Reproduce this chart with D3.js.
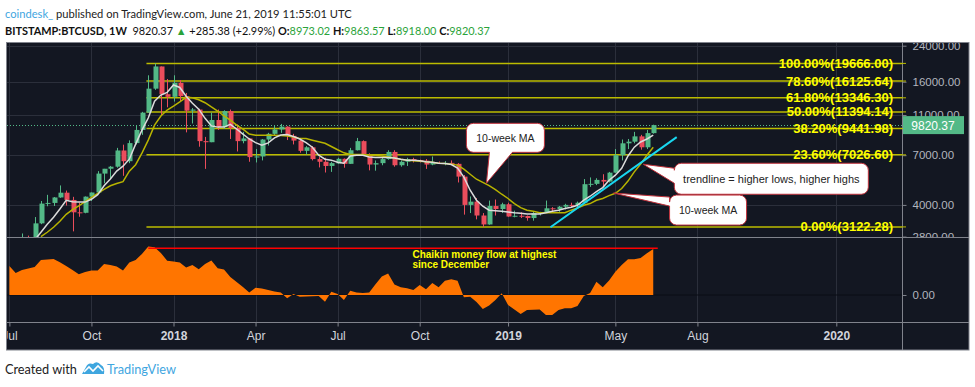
<!DOCTYPE html>
<html>
<head>
<meta charset="utf-8">
<script src="https://cdn.jsdelivr.net/npm/d3@7"></script>
<style>
  body { margin: 0; background: #fff; }
  svg { display: block; }
  .axis text { font-family: "Liberation Sans", Arial, sans-serif; }
</style>
</head>
<body>
<svg id="chart" width="975" height="387"></svg>
<script>
// BITSTAMP:BTCUSD weekly candles, first bar = week of 3 Jul 2017
const firstWeek = '2017-07-03';
const ohlc = [
  // Jul - Sep 2017
  [2495, 2665, 2470, 2505], [2505, 2540, 1830, 1915], [1915, 2900, 1900, 2740], [2740, 2830, 2620, 2720],
  [2720, 3490, 2620, 3250], [3250, 4180, 3220, 4060], [4060, 4480, 3940, 4090], [4090, 4370, 3950, 4350],
  [4350, 4980, 4330, 4590], [4590, 4700, 3970, 4230], [4230, 4380, 2970, 3680], [3680, 4100, 3500, 3660],
  [3660, 4400, 3640, 4390],
  // Oct - Dec 2017
  [4390, 4600, 4180, 4600], [4600, 5850, 4550, 5690], [5690, 6000, 5100, 6010], [6010, 6200, 5370, 6150],
  [6150, 7600, 6080, 7380], [7380, 7880, 5550, 6540], [6540, 8270, 6400, 8020], [8020, 9750, 7900, 9300],
  [9300, 11400, 8800, 11300], [11300, 17200, 11300, 14800], [14800, 19666, 14600, 19000], [19000, 19000, 11000, 13900],
  [13900, 16500, 12000, 13500],
  // Jan - Mar 2018
  [13500, 17200, 12800, 15800], [15800, 16300, 12800, 13600], [13600, 14100, 9050, 11550], [11550, 11900, 10000, 11700],
  [11700, 11800, 7700, 8200], [8200, 8600, 6000, 8100], [8100, 11300, 8100, 10400], [10400, 11700, 9300, 9600],
  [9600, 11600, 9400, 11500], [11500, 11700, 8400, 9500], [9500, 9900, 7300, 8200], [8200, 9100, 8000, 8450],
  [8450, 8500, 6500, 6850],
  // Apr - Jun 2018
  [6850, 7500, 6450, 6900], [6900, 8400, 6600, 8350], [8350, 9000, 7800, 8900], [8900, 9750, 8700, 9350],
  [9350, 9950, 9000, 9650], [9650, 9700, 8300, 8700], [8700, 8900, 7900, 8250], [8250, 8500, 7200, 7350],
  [7350, 7750, 7050, 7650], [7650, 7750, 6600, 6700], [6700, 6850, 6100, 6500], [6500, 6800, 5760, 6200],
  [6200, 6500, 5800, 6400],
  // Jul - Sep 2018
  [6380, 6800, 6350, 6720], [6720, 6750, 6080, 6350], [6350, 7600, 6350, 7400], [7400, 8500, 7380, 8200],
  [8200, 8270, 6950, 7020], [7020, 7150, 5900, 6300], [6300, 6600, 5880, 6400], [6400, 6800, 6250, 6700],
  [6700, 7400, 6650, 7260], [7260, 7400, 6150, 6250], [6250, 6600, 6150, 6500], [6500, 6800, 6200, 6700],
  [6700, 6800, 6450, 6620],
  // Oct - Dec 2018
  [6620, 6660, 6450, 6580], [6580, 6700, 6000, 6300], [6300, 6900, 6250, 6410], [6410, 6520, 6350, 6400],
  [6400, 6550, 6250, 6420], [6420, 6600, 6300, 6350], [6350, 6400, 5150, 5500], [5500, 5600, 3585, 4000],
  [4000, 4400, 3650, 4150], [4150, 4320, 3400, 3550], [3550, 3650, 3122, 3210], [3210, 4200, 3200, 3950],
  [3950, 4250, 3550, 3820], [3820, 4100, 3650, 4030],
  // Jan - Mar 2019
  [4030, 4100, 3500, 3510], [3510, 3750, 3480, 3540], [3540, 3680, 3450, 3530], [3530, 3550, 3350, 3450],
  [3450, 3700, 3350, 3650], [3650, 3700, 3550, 3660], [3660, 4200, 3660, 3850], [3850, 3900, 3660, 3810],
  [3810, 3950, 3700, 3920], [3920, 4050, 3800, 4000], [4000, 4100, 3900, 3990], [3990, 4150, 3900, 4100],
  // Apr - Jun 2019
  [4100, 5350, 4100, 5050], [5050, 5450, 4900, 5070], [5070, 5400, 5000, 5300], [5300, 5650, 4950, 5200],
  [5200, 5800, 5150, 5750], [5750, 7500, 5750, 7000], [7000, 8350, 6600, 8000], [8000, 8400, 7500, 8150],
  [8150, 9100, 8000, 8650], [8650, 8800, 7450, 7650], [7650, 9300, 7500, 8973.02], [8973.02, 9863.57, 8918.00, 9820.37]
];

// short moving average (white) and 10-week MA (yellow), one value per bar
const maFast = [
  null, null, null, null, 2690, 2940, 3215, 3480, 3820, 4216, 4150, 4130, 4130,
  4260, 4490, 4965, 5350, 5850, 6185, 6690, 7930, 9280, 10630, 12860, 13770, 14200,
  15420, 15000, 13600, 12550, 11750, 10600, 9730, 9600, 9600, 9900, 9400, 8880, 8400,
  8060, 7840, 8040, 8500, 8780, 8830, 8640, 8400, 8060, 7660, 7000, 6690, 6620,
  6470, 6400, 6930, 7000, 7000, 6860, 6820, 6820, 6820, 6780, 6690, 6620, 6620,
  6570, 6500, 6470, 6400, 6370, 6300, 6060, 5470, 4720, 4216, 3940, 3770, 3750, 3720,
  3690, 3660, 3640, 3610, 3610, 3610, 3660, 3720, 3770, 3840, 3900, 3985,
  4216, 4410, 4640, 4860, 5283, 5590, 6040, 6940, 7660, 8120, 8400, 8770
];
const ma10 = [
  null, null, null, null, null, 2800, 2940, 3110, 3330, 3600, 3790, 3960, 4150,
  4350, 4560, 4760, 4960, 5090, 5200, 5850, 6290, 7160, 8290, 9820, 10880, 11630,
  12170, 12770, 13420, 13360, 13060, 12630, 12040, 11510, 10880, 10390, 9820, 9390, 8880,
  8770, 8770, 8770, 8770, 8730, 8680, 8580, 8440, 8440, 8290, 8150, 8000, 7720,
  7440, 7190, 7050, 7050, 7050, 7000, 6970, 6930, 6860, 6780, 6690, 6620, 6580,
  6540, 6500, 6470, 6400, 6370, 6330, 6260, 5980, 5650, 5340, 5150, 4970, 4750, 4510,
  4300, 4060, 3880, 3770, 3720, 3660, 3660, 3660, 3660, 3660, 3770, 3860,
  3985, 4060, 4216, 4300, 4440, 4560, 4810, 5230, 5800, 6330, 7000, 7660
];

// Chaikin money flow, one value per bar
const cmf = [
  0.242, 0.183, 0.208, 0.221, 0.233, 0.292, 0.296, 0.300, 0.272, 0.242, 0.208, 0.172, 0.192,
  0.203, 0.203, 0.258, 0.250, 0.238, 0.204, 0.271, 0.292, 0.342, 0.403, 0.397, 0.350, 0.286,
  0.279, 0.271, 0.228, 0.250, 0.214, 0.258, 0.288, 0.222, 0.213, 0.150, 0.108, 0.067, 0.021,
  0.061, 0.054, 0.042, 0.030, 0.021, -0.028, 0.008, -0.014, -0.013, -0.010, -0.008, -0.056, 0.028,
  0.008, -0.042, 0.036, 0.021, 0.017, 0.021, 0.089, 0.153, 0.179, 0.088, 0.064, 0.056, 0.042,
  0.083, 0.048, 0.100, 0.064, 0.119, 0.131, 0.119, -0.019, -0.014, -0.058, -0.117, -0.088, -0.042, 0.014,
  -0.083, -0.121, -0.158, -0.125, -0.122, -0.121, -0.167, -0.167, -0.125, -0.111, -0.111, -0.092,
  -0.008, 0.017, 0.111, 0.064, 0.121, 0.194, 0.250, 0.298, 0.298, 0.308, 0.348, 0.383
];
const cmfHighDates = ['2017-12-04', '2019-06-22'];
const cmfHighValue = 0.39;

// Fibonacci retracement
const fibLevels = [1, 0.786, 0.618, 0.5, 0.382, 0.236, 0];
const fibPrices = [19666.00, 16125.64, 13346.30, 11394.14, 9441.98, 7026.60, 3122.28];
const fibStart = '2017-12-02';

const lastPrice = 9820.37;
const trendline = [['2019-02-23', 3111], ['2019-07-13', 8580]];

const priceTicks = [24000, 16000, 11000, 7000, 4000, 2800];
const cmfTicks = [0];
const timeTicks = ['2017-07-03', '2017-10-02', '2018-01-01', '2018-04-02', '2018-07-02', '2018-10-01',
  '2019-01-07', '2019-05-06', '2019-08-05', '2020-01-06'];
const timeTickLabels = ['Jul', 'Oct', '2018', 'Apr', 'Jul', 'Oct', '2019', 'May', 'Aug', '2020'];

// callouts: target in data space, box offset/size in px
const callouts = [
  { text: '10-week MA', date: '2018-12-14', price: 5100, dx: -20, dy: -60, w: 78, h: 29, tail: 'bottom', t0: 23, t1: 46, size: 10.5 },
  { text: 'trendline = higher lows, higher highs', date: '2019-06-06', price: 6320, dx: 31, dy: -1, w: 194, h: 31, tail: 'left', t0: 5, t1: 20, size: 11 },
  { text: '10-week MA', date: '2019-05-04', price: 4570, dx: 56, dy: 2, w: 77, h: 30, tail: 'left', t0: 2, t1: 11, size: 10.5 }
];

const parse = d3.utcParse('%Y-%m-%d');
const dates = ohlc.map((d, i) => d3.utcMonday.offset(parse(firstWeek), i));

const box = { left: 7, right: 902, top: 43, mid: 237, bottom: 322, axis: 350, outerRight: 969 };
const colors = {
  bg: '#131722', grid: '#2b2f3b', border: '#80838c', text: '#b2b5be',
  up: '#53b987', down: '#eb4d5c', fib: '#bcbc00', fibText: '#ffff00',
  maFast: '#dcdcdc', ma10: '#b8b400', cmf: '#ff7500'
};

const svg = d3.select('#chart');

const x = d3.scaleUtc()
  .domain([parse('2018-01-01'), parse('2020-01-06')])
  .range([173.5, 836.3]);
const y = d3.scaleLog()
  .domain([2800, 24000])
  .range([236.6, 45.7]);
const yc = d3.scaleLinear()
  .domain([-0.225, 0.483])
  .range([box.bottom, box.mid]);

// shrink a text's font until it takes the given width
function fitWidth(sel, width, maxSize) {
  const len = sel.node().getComputedTextLength();
  const size = parseFloat(sel.style('font-size'));
  sel.style('font-size', Math.min(maxSize, size * width / len).toFixed(2) + 'px');
}

// frame
svg.append('rect')
  .attr('x', 6.5).attr('y', 42.5)
  .attr('width', box.outerRight - 6.5).attr('height', box.axis - 42.5)
  .attr('fill', colors.bg)
  .attr('stroke', colors.border);

const defs = svg.append('defs');
const clip = (id, cx, cy, w, h) => defs.append('clipPath').attr('id', id).append('rect')
  .attr('x', cx).attr('y', cy).attr('width', w).attr('height', h);
clip('clip-main', box.left, box.top, box.right - box.left, box.mid - box.top);
clip('clip-cmf', box.left, box.mid, box.right - box.left, box.bottom - box.mid);
clip('clip-paxis', box.right, box.top, box.outerRight - box.right, box.mid - box.top);
clip('clip-taxis', box.left, box.bottom, box.right - box.left, box.axis - box.bottom);

// grid
const grid = svg.append('g').attr('class', 'grid');
grid.selectAll('.vgrid')
  .data(timeTicks)
  .join('line')
  .attr('x1', d => Math.round(x(parse(d))) + 0.5)
  .attr('x2', d => Math.round(x(parse(d))) + 0.5)
  .attr('y1', box.top).attr('y2', box.bottom)
  .attr('stroke', colors.grid);
grid.selectAll('.hgrid')
  .data(priceTicks)
  .join('line')
  .attr('x1', box.left).attr('x2', box.right)
  .attr('y1', d => Math.round(y(d)) + 0.5)
  .attr('y2', d => Math.round(y(d)) + 0.5)
  .attr('stroke', colors.grid);

// ---- main pane ----
const main = svg.append('g').attr('clip-path', 'url(#clip-main)');

// fib lines
main.selectAll('.fib')
  .data(fibPrices)
  .join('line')
  .attr('x1', x(parse(fibStart))).attr('x2', box.right)
  .attr('y1', d => y(d)).attr('y2', d => y(d))
  .attr('stroke', colors.fib)
  .attr('stroke-width', 1.5);

// last price dotted line
main.append('line')
  .attr('x1', box.left).attr('x2', box.right)
  .attr('y1', Math.round(y(lastPrice)) + 0.5).attr('y2', Math.round(y(lastPrice)) + 0.5)
  .attr('stroke', colors.up)
  .attr('stroke-dasharray', '1,2');

// candles
const candles = main.selectAll('.candle')
  .data(ohlc)
  .join('g')
  .attr('class', 'candle');
candles.append('line')
  .attr('x1', (d, i) => Math.round(x(dates[i])) + 0.5)
  .attr('x2', (d, i) => Math.round(x(dates[i])) + 0.5)
  .attr('y1', d => y(d[1]))
  .attr('y2', d => y(d[2]))
  .attr('stroke', d => d[3] >= d[0] ? colors.up : colors.down);
candles.append('rect')
  .attr('x', (d, i) => Math.round(x(dates[i])) - 1.5)
  .attr('width', 5)
  .attr('y', d => y(Math.max(d[0], d[3])))
  .attr('height', d => Math.max(1, Math.abs(y(d[0]) - y(d[3]))))
  .attr('fill', d => d[3] >= d[0] ? colors.up : colors.down);

// moving averages
const maLine = d3.line()
  .defined(d => d != null)
  .x((d, i) => x(dates[i]))
  .y(d => y(d));
main.append('path')
  .attr('d', maLine(ma10))
  .attr('fill', 'none')
  .attr('stroke', colors.ma10)
  .attr('stroke-width', 1.5);
main.append('path')
  .attr('d', maLine(maFast))
  .attr('fill', 'none')
  .attr('stroke', colors.maFast)
  .attr('stroke-width', 1.5);

// trendline
main.append('line')
  .attr('x1', x(parse(trendline[0][0]))).attr('y1', y(trendline[0][1]))
  .attr('x2', x(parse(trendline[1][0]))).attr('y2', y(trendline[1][1]))
  .attr('stroke', '#19d7f0')
  .attr('stroke-width', 2);

// fib labels
main.selectAll('.fib-label')
  .data(fibPrices)
  .join('text')
  .attr('x', 893)
  .attr('y', d => y(d) + 4.5)
  .attr('text-anchor', 'end')
  .attr('fill', colors.fibText)
  .style('font', 'bold 13px "Liberation Sans", Arial, sans-serif')
  .text((d, i) => `${(fibLevels[i] * 100).toFixed(2)}%(${d.toFixed(2)})`);

// callouts
callouts.forEach(c => {
  const tx = x(parse(c.date)), ty = y(c.price);
  const bx = tx + c.dx, by = ty + c.dy, r = 7;
  const p = d3.path();
  p.moveTo(bx + r, by);
  p.lineTo(bx + c.w - r, by);
  p.arcTo(bx + c.w, by, bx + c.w, by + r, r);
  p.lineTo(bx + c.w, by + c.h - r);
  p.arcTo(bx + c.w, by + c.h, bx + c.w - r, by + c.h, r);
  if (c.tail === 'bottom') {
    p.lineTo(bx + c.t1, by + c.h);
    p.lineTo(tx, ty);
    p.lineTo(bx + c.t0, by + c.h);
  }
  p.lineTo(bx + r, by + c.h);
  p.arcTo(bx, by + c.h, bx, by + c.h - r, r);
  if (c.tail === 'left') {
    p.lineTo(bx, by + c.t1);
    p.lineTo(tx, ty);
    p.lineTo(bx, by + c.t0);
  }
  p.lineTo(bx, by + r);
  p.arcTo(bx, by, bx + r, by, r);
  p.closePath();
  svg.append('path')
    .attr('d', p.toString())
    .attr('fill', '#fff')
    .attr('stroke', '#c0323c')
    .attr('stroke-width', 1);
  svg.append('text')
    .attr('x', bx + c.w / 2)
    .attr('y', by + c.h / 2 + 4)
    .attr('text-anchor', 'middle')
    .attr('fill', '#222')
    .style('font', `${c.size}px "Liberation Sans", Arial, sans-serif`)
    .text(c.text);
});

// ---- CMF pane ----
const cmfG = svg.append('g').attr('clip-path', 'url(#clip-cmf)');
cmfG.append('line')
  .attr('x1', box.left).attr('x2', box.right)
  .attr('y1', yc(0)).attr('y2', yc(0))
  .attr('stroke', '#0b0e16');
cmfG.append('path')
  .attr('d', d3.area()
    .x((d, i) => x(dates[i]))
    .y0(yc(0))
    .y1(d => yc(d))(cmf))
  .attr('fill', colors.cmf);
cmfG.append('line')
  .attr('x1', x(parse(cmfHighDates[0]))).attr('x2', x(parse(cmfHighDates[1])))
  .attr('y1', yc(cmfHighValue)).attr('y2', yc(cmfHighValue))
  .attr('stroke', '#ff0000')
  .attr('stroke-width', 1.5);
const noteX = x(parse('2018-09-23'));
const note = cmfG.append('text')
  .attr('fill', '#ffff00')
  .style('font', 'bold 10px "Liberation Sans", Arial, sans-serif');
note.append('tspan').attr('x', noteX).attr('y', yc(0.31)).text('Chaikin money flow at highest');
note.append('tspan').attr('x', noteX).attr('y', yc(0.225)).text('since December');

// separators
svg.append('line').attr('x1', box.left).attr('x2', box.outerRight)
  .attr('y1', box.mid + 0.5).attr('y2', box.mid + 0.5).attr('stroke', colors.border);
svg.append('line').attr('x1', box.left).attr('x2', box.outerRight)
  .attr('y1', box.bottom + 0.5).attr('y2', box.bottom + 0.5).attr('stroke', colors.border);
svg.append('line').attr('x1', box.right + 0.5).attr('x2', box.right + 0.5)
  .attr('y1', box.top).attr('y2', box.axis).attr('stroke', colors.border);

// price axis (clip on an outer group so the clip box is in page coordinates)
const pAxis = svg.append('g')
  .attr('clip-path', 'url(#clip-paxis)')
  .append('g')
  .attr('class', 'axis')
  .attr('transform', `translate(${box.right + 0.5},0)`)
  .call(d3.axisRight(y).tickValues(priceTicks).tickFormat(d3.format('.2f')).tickSize(4).tickPadding(6));
pAxis.select('.domain').remove();
pAxis.selectAll('line').attr('stroke', colors.border);
pAxis.selectAll('text').attr('fill', colors.text).style('font-size', '11.5px');
// fib marks on the price scale
svg.selectAll('.fib-mark')
  .data(fibPrices)
  .join('line')
  .attr('x1', box.right).attr('x2', box.right + 4)
  .attr('y1', d => y(d)).attr('y2', d => y(d))
  .attr('stroke', colors.fib);

// last price tag
svg.append('rect')
  .attr('x', box.right + 1).attr('y', y(lastPrice) - 9)
  .attr('width', 61).attr('height', 18)
  .attr('fill', colors.up);
svg.append('text')
  .attr('x', box.right + 31).attr('y', y(lastPrice) + 4.5)
  .attr('text-anchor', 'middle')
  .attr('fill', '#fff')
  .style('font', '12px "Liberation Sans", Arial, sans-serif')
  .text(lastPrice.toFixed(2));

// CMF axis
const cAxis = svg.append('g')
  .attr('class', 'axis')
  .attr('transform', `translate(${box.right + 0.5},0)`)
  .call(d3.axisRight(yc).tickValues(cmfTicks).tickFormat(d3.format('.2f')).tickSize(4).tickPadding(6));
cAxis.select('.domain').remove();
cAxis.selectAll('line').attr('stroke', colors.border);
cAxis.selectAll('text').attr('fill', colors.text).style('font-size', '11.5px');

// time axis
const tAxis = svg.append('g')
  .attr('clip-path', 'url(#clip-taxis)')
  .append('g')
  .attr('class', 'axis')
  .attr('transform', `translate(0,${box.bottom + 0.5})`)
  .call(d3.axisBottom(x).tickValues(timeTicks.map(parse)).tickFormat((d, i) => timeTickLabels[i]).tickSize(4).tickPadding(5));
tAxis.select('.domain').remove();
tAxis.selectAll('line').attr('stroke', colors.border);
tAxis.selectAll('text')
  .attr('fill', '#d1d4dc')
  .style('font-size', '12px')
  .style('font-weight', (d, i) => /^\d+$/.test(timeTickLabels[i]) ? 'bold' : 'normal');

// ---- header ----
const headFont = '"Lato", "Liberation Sans", sans-serif';
const head1 = svg.append('text')
  .attr('x', 5).attr('y', 17.5)
  .style('font-family', headFont)
  .style('font-size', '14px');
head1.append('tspan').attr('fill', '#3fa6df').text('coindesk_');
head1.append('tspan').attr('fill', '#222').text(' published on TradingView.com, June 21, 2019 11:55:01 UTC');
fitWidth(head1, 347, 14);

const green = '#2aa33a';
const head2Parts = [
  { t: 'BITSTAMP:BTCUSD, 1W', bold: true, fill: '#111' },
  { t: '\u00a0\u00a09820.37 ', fill: '#111' },
  { t: '\u25b2', fill: green },
  { t: ' +285.38 (+2.99%) ', fill: '#111' },
  { t: 'O:', bold: true, fill: '#111' },
  { t: '8973.02 ', fill: green },
  { t: 'H:', bold: true, fill: '#111' },
  { t: '9863.57 ', fill: green },
  { t: 'L:', bold: true, fill: '#111' },
  { t: '8918.00 ', fill: green },
  { t: 'C:', bold: true, fill: '#111' },
  { t: '9820.37', fill: green }
];
const head2 = svg.append('text')
  .attr('x', 5).attr('y', 34.5)
  .style('font-family', headFont)
  .style('font-size', '14px');
head2.selectAll('tspan')
  .data(head2Parts)
  .join('tspan')
  .attr('fill', d => d.fill)
  .style('font-weight', d => d.bold ? 'bold' : 'normal')
  .text(d => d.t);
fitWidth(head2, 485, 14);

// ---- footer ----
const foot1 = svg.append('text')
  .attr('x', 5).attr('y', 373.5)
  .attr('fill', '#222')
  .style('font-family', headFont)
  .style('font-size', '14px')
  .text('Created with');
fitWidth(foot1, 72, 14);
const foot2 = svg.append('text')
  .attr('x', 107).attr('y', 373.5)
  .attr('fill', '#3fa6df')
  .style('font-family', headFont)
  .style('font-size', '14px')
  .text('TradingView');
fitWidth(foot2, 69, 14);
svg.append('path')
  .attr('d', 'M82,374 L86,367 Q88,362 93,364 Q97,360 101,365 Q105,367 104,374 Z')
  .attr('fill', '#3fa6df');
svg.append('path')
  .attr('d', 'M84,372 L89,367 L93,371 L98,366 L103,371')
  .attr('fill', 'none')
  .attr('stroke', '#fff')
  .attr('stroke-width', 1.6);
</script>
</body>
</html>
